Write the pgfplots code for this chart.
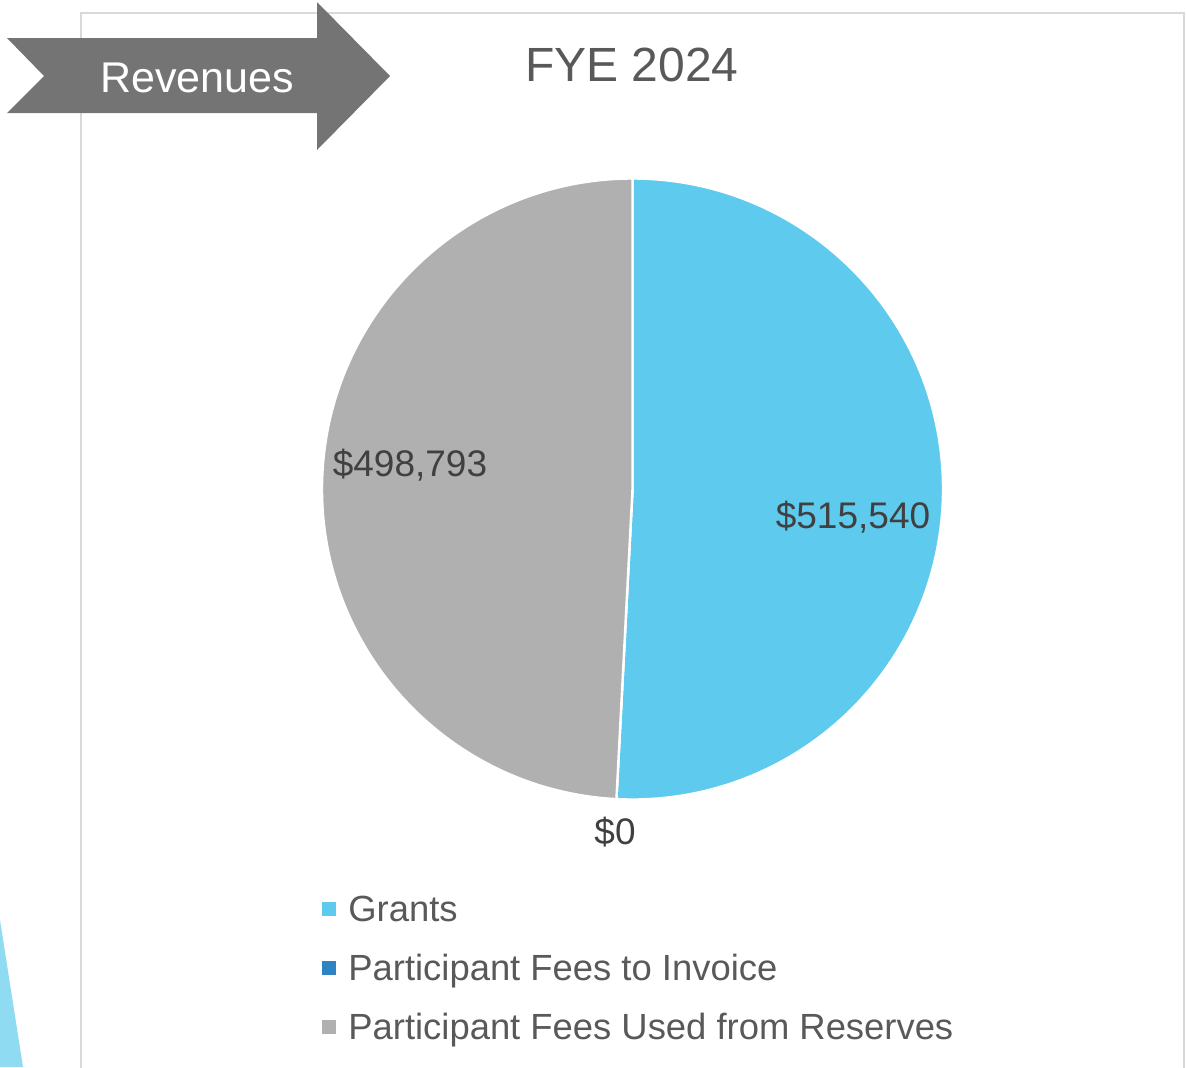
\documentclass[border=0pt]{standalone}
\usepackage{pgfplots}
\pgfplotsset{compat=1.18}
\usepackage{pgfplotstable}
\usepackage{fontspec}
\setmainfont{Liberation Sans}
\definecolor{grantblue}{HTML}{5ECAEE}
\definecolor{invblue}{HTML}{2E83C5}
\definecolor{resgray}{HTML}{B0B0B0}
\definecolor{labeltxt}{HTML}{404040}
\definecolor{titletxt}{HTML}{595959}
\definecolor{arrowgray}{HTML}{747474}
\definecolor{framegray}{HTML}{D9D9D9}
\definecolor{triblue}{HTML}{8FDCF2}
\pgfkeys{/pgf/number format/.cd, fixed, precision=0, 1000 sep={,}, assume math mode=true}

\pgfplotstableread[col sep=comma]{
category,value
Grants,515540
Participant Fees to Invoice,0
Participant Fees Used from Reserves,498793
}\revtable

\begin{document}
\begin{tikzpicture}
\pgfplotstablegetelem{0}{value}\of\revtable \let\vA\pgfplotsretval
\pgfplotstablegetelem{1}{value}\of\revtable \let\vB\pgfplotsretval
\pgfplotstablegetelem{2}{value}\of\revtable \let\vC\pgfplotsretval
\edef\angA{\fpeval{360*\vA/(\vA+\vB+\vC)}}
\edef\angB{\fpeval{360*\vB/(\vA+\vB+\vC)}}
\edef\endA{\fpeval{90-\angA}}
\edef\endB{\fpeval{90-\angA-\angB}}
\def\R{155.25pt}
\path[use as bounding box] (0,0) rectangle (593pt,533.5pt);
\begin{axis}[at={(0,0)}, anchor=south west, scale only axis,
  width=593pt, height=533.5pt,
  xmin=0, xmax=1186, ymin=0, ymax=1067, y dir=reverse,
  hide axis, clip=false]
% frame
\draw[framegray, line width=1pt] (axis cs:81,1075) -- (axis cs:81,13) -- (axis cs:1184,13) -- (axis cs:1184,1075);
% banner arrow
\fill[arrowgray] (axis cs:7,38) -- (axis cs:317,38) -- (axis cs:317,2) -- (axis cs:390,76)
  -- (axis cs:317,150) -- (axis cs:317,113) -- (axis cs:7,113) -- (axis cs:44,76) -- cycle;
\node[white, font=\fontsize{21.5}{26}\selectfont] at (axis cs:197,78) {Revenues};
% decorative triangle
\fill[triblue] (axis cs:0,920) -- (axis cs:23,1067) -- (axis cs:0,1067) -- cycle;
% title
\node[titletxt, font=\fontsize{24}{29}\selectfont] at (axis cs:632,65) {FYE 2024};
% pie
\filldraw[fill=grantblue, draw=white, line width=1.2pt] (axis cs:632.5,489) -- ++(90:\R)
  arc[start angle=90, end angle=\endA, radius=\R] -- cycle;
\filldraw[fill=invblue, draw=white, line width=1.2pt] (axis cs:632.5,489) -- ++(\endA:\R)
  arc[start angle=\endA, end angle=\endB, radius=\R] -- cycle;
\filldraw[fill=resgray, draw=white, line width=1.2pt] (axis cs:632.5,489) -- ++(\endB:\R)
  arc[start angle=\endB, end angle=-270, radius=\R] -- cycle;
% data labels
\node[labeltxt, font=\fontsize{18.5}{22}\selectfont] at (axis cs:853,517) {\$\pgfmathprintnumber{\vA}};
\node[labeltxt, font=\fontsize{18.5}{22}\selectfont] at (axis cs:615,832) {\$\pgfmathprintnumber{\vB}};
\node[labeltxt, font=\fontsize{18.5}{22}\selectfont] at (axis cs:410,465) {\$\pgfmathprintnumber{\vC}};
% legend
\fill[grantblue] (axis cs:322,902) rectangle (axis cs:336,916);
\fill[invblue] (axis cs:322,961) rectangle (axis cs:336,975);
\fill[resgray] (axis cs:322,1020) rectangle (axis cs:336,1034);
\node[titletxt, anchor=base west, inner sep=0pt, font=\fontsize{18.2}{22}\selectfont] at (axis cs:348,921) {Grants};
\node[titletxt, anchor=base west, inner sep=0pt, font=\fontsize{18.2}{22}\selectfont] at (axis cs:348,980) {Participant Fees to Invoice};
\node[titletxt, anchor=base west, inner sep=0pt, font=\fontsize{18.2}{22}\selectfont] at (axis cs:348,1039) {Participant Fees Used from Reserves};
\end{axis}
\end{tikzpicture}
\end{document}
